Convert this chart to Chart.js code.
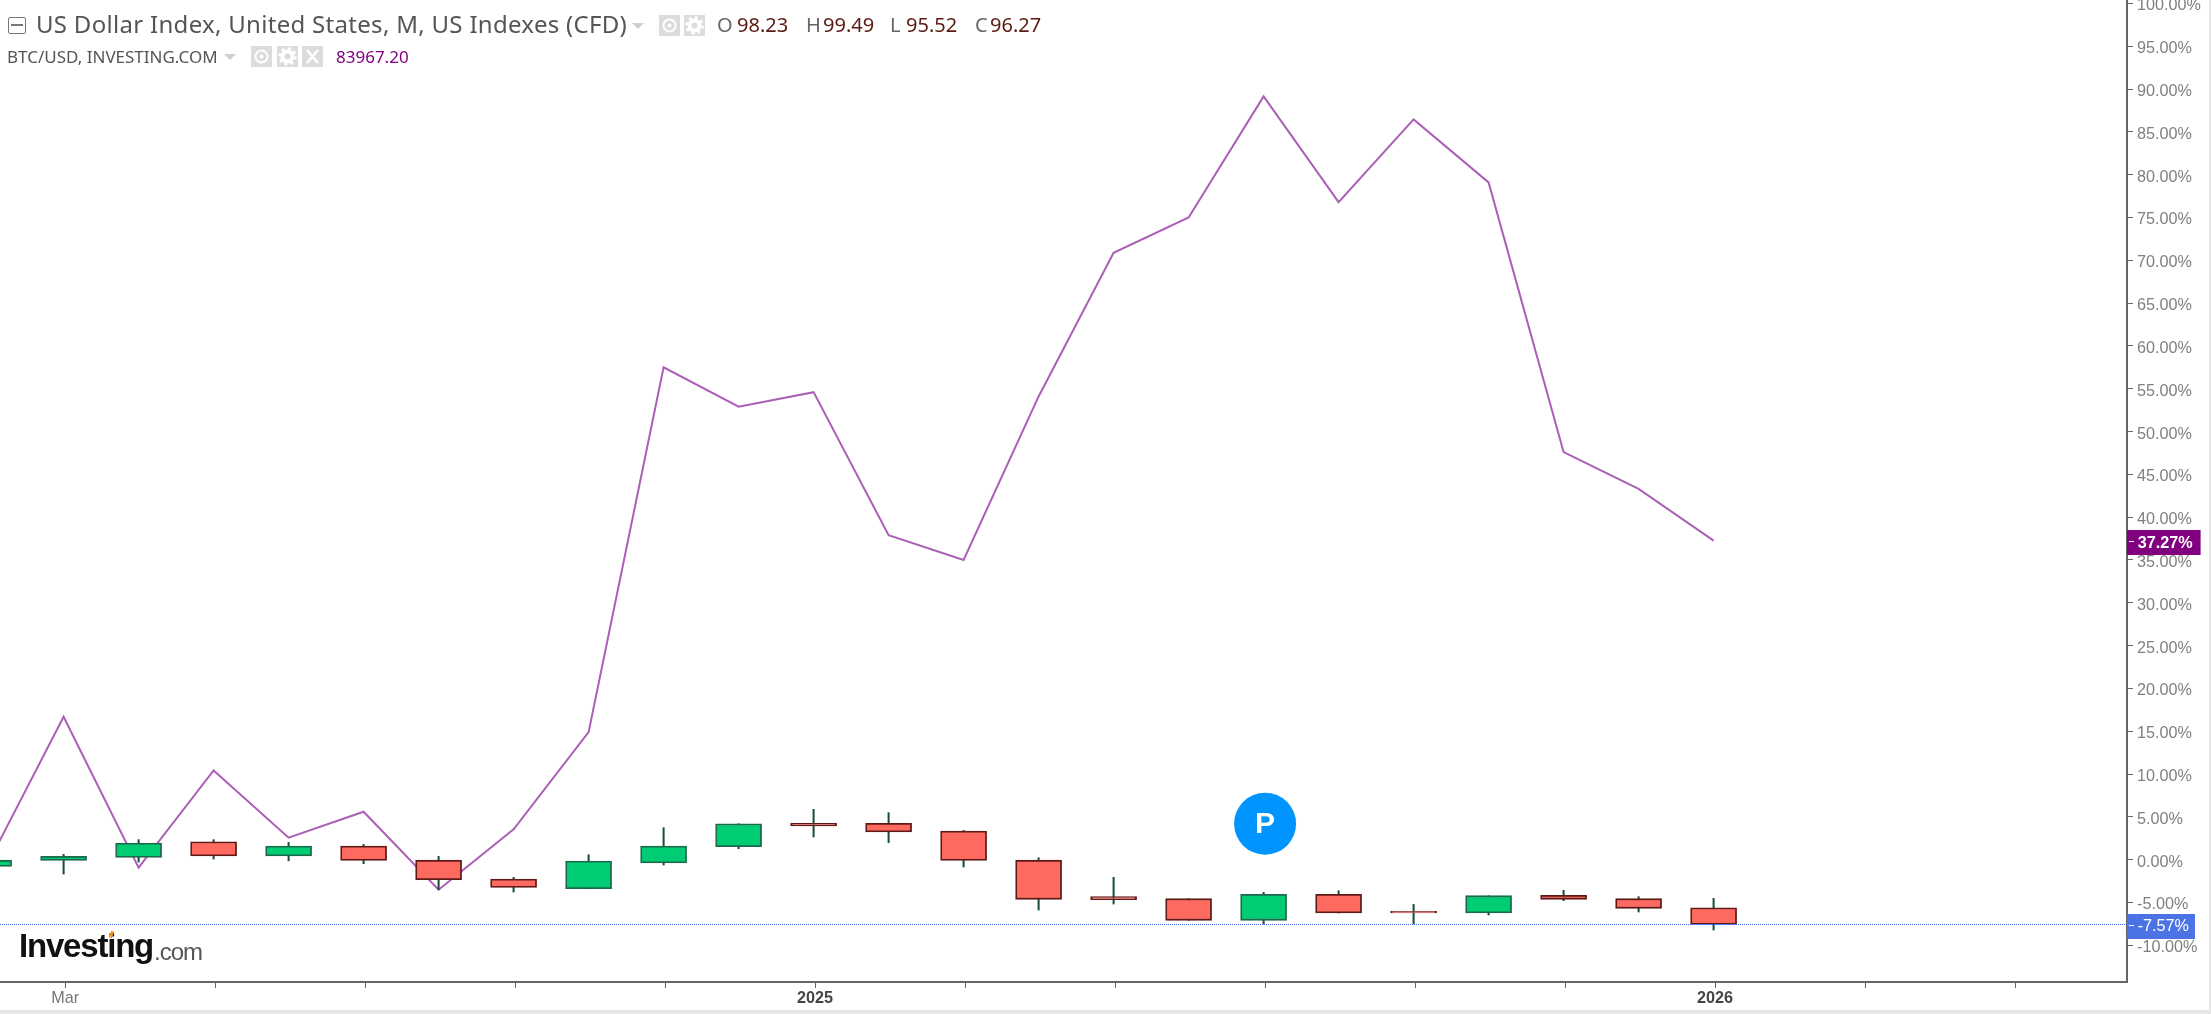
<!DOCTYPE html>
<html><head><meta charset="utf-8">
<script src="https://cdn.jsdelivr.net/npm/chart.js@4"></script>
<style>
html,body{margin:0;padding:0;background:#fff;width:2211px;height:1014px;overflow:hidden}
#band{position:absolute;left:0;top:1010px;width:2211px;height:4px;background:#e6e6e8}
#side{position:absolute;left:2209px;top:0;width:2px;height:1014px;background:#e6e6e8}
canvas{position:absolute;left:0;top:0}
.t{position:absolute;white-space:nowrap;font-family:"Noto Sans",sans-serif;line-height:1}
.ic{position:absolute;width:21px;height:21px;background:#dcdcdc}
.tri{position:absolute;width:0;height:0;border-left:6px solid transparent;border-right:6px solid transparent;border-top:6px solid #cfcfcf}
</style></head><body>
<canvas id="c" width="2209" height="1010" style="width:2209px;height:1010px"></canvas>
<div id="band"></div><div id="side"></div>

<div style="position:absolute;left:8px;top:17px;width:16px;height:15px;border:1.5px solid #777;border-radius:2px"></div>
<div style="position:absolute;left:11px;top:24px;width:12px;height:2px;background:#777"></div>
<div class="t" style="left:36px;top:12px;font-size:24px;letter-spacing:.3px;color:#555">US Dollar Index, United States, M, US Indexes (CFD)</div>
<div class="tri" style="left:632px;top:23px"></div>
<div class="ic" style="left:659px;top:15px"><svg width="21" height="21"><circle cx="10.5" cy="10.5" r="6" fill="none" stroke="#fff" stroke-width="2"/><circle cx="10.5" cy="10.5" r="2" fill="#fff"/></svg></div>
<div class="ic" style="left:684px;top:15px"><svg width="21" height="21"><circle cx="10.5" cy="10.5" r="5" fill="none" stroke="#fff" stroke-width="4" /><circle cx="10.5" cy="10.5" r="8" fill="none" stroke="#fff" stroke-width="2.5" stroke-dasharray="3 3.3"/></svg></div>
<div class="t" style="left:717px;top:15px;font-size:20px;color:#666">O</div>
<div class="t" style="left:737px;top:15px;font-size:20px;color:#5b1a12">98.23</div>
<div class="t" style="left:806px;top:15px;font-size:20px;color:#666">H</div>
<div class="t" style="left:823px;top:15px;font-size:20px;color:#5b1a12">99.49</div>
<div class="t" style="left:890px;top:15px;font-size:20px;color:#666">L</div>
<div class="t" style="left:906px;top:15px;font-size:20px;color:#5b1a12">95.52</div>
<div class="t" style="left:975px;top:15px;font-size:20px;color:#666">C</div>
<div class="t" style="left:990px;top:15px;font-size:20px;color:#5b1a12">96.27</div>

<div class="t" style="left:7px;top:48px;font-size:17px;color:#555">BTC/USD, INVESTING.COM</div>
<div class="tri" style="left:224px;top:54px"></div>
<div class="ic" style="left:251px;top:46px"><svg width="21" height="21"><circle cx="10.5" cy="10.5" r="6" fill="none" stroke="#fff" stroke-width="2"/><circle cx="10.5" cy="10.5" r="2" fill="#fff"/></svg></div>
<div class="ic" style="left:277px;top:46px"><svg width="21" height="21"><circle cx="10.5" cy="10.5" r="5" fill="none" stroke="#fff" stroke-width="4"/><circle cx="10.5" cy="10.5" r="8" fill="none" stroke="#fff" stroke-width="2.5" stroke-dasharray="3 3.3"/></svg></div>
<div class="ic" style="left:302px;top:46px"><svg width="21" height="21"><path d="M5 4 L16 17 M16 4 L5 17" stroke="#fff" stroke-width="2.5"/></svg></div>
<div class="t" style="left:336px;top:48px;font-size:17px;color:#800080">83967.20</div>

<div class="t" style="left:19px;top:929px;font-family:'Liberation Sans';font-weight:700;font-size:33px;color:#111;letter-spacing:-1.2px">Investing</div>
<div style="position:absolute;left:110px;top:931px;width:3px;height:7px;background:#f7941d;transform:rotate(20deg)"></div>
<div class="t" style="left:154px;top:940px;font-family:'Liberation Sans';font-size:24px;color:#555;letter-spacing:-1px">.com</div>

<script>
const candleMonths = ["Feb 2024","Mar 2024","Apr 2024","May 2024","Jun 2024","Jul 2024","Aug 2024","Sep 2024","Oct 2024","Nov 2024","Dec 2024","Jan 2025","Feb 2025","Mar 2025","Apr 2025","May 2025","Jun 2025","Jul 2025","Aug 2025","Sep 2025","Oct 2025","Nov 2025","Dec 2025","Jan 2026"];
const opens  = [-0.78,-0.08,0.27,2.10,0.43,1.60,0.00,-2.26,-3.39,-0.39,1.52,4.24,4.24,3.35,0.00,-4.32,-4.55,-7.08,-4.05,-6.03,-6.23,-4.17,-4.55,-5.61];
const highs  = [0.00,0.62,2.34,2.34,2.02,1.79,0.39,-2.06,0.58,3.74,4.20,5.88,5.49,3.43,0.23,-2.06,-4.55,-3.81,-3.62,-5.22,-4.20,-3.58,-4.32,-4.52];
const lows   = [-0.78,-1.67,-0.27,0.08,-0.12,-0.47,-3.50,-3.78,-3.39,-0.62,1.28,2.65,1.99,-0.86,-5.88,-5.18,-7.08,-7.51,-6.23,-7.51,-6.46,-4.79,-6.11,-8.21];
const closes = [0.00,0.39,1.95,0.43,1.60,-0.08,-2.34,-3.23,-0.16,1.60,4.20,3.93,3.23,-0.08,-4.63,-4.67,-7.08,-4.05,-6.23,-6.23,-4.20,-4.63,-5.68,-7.57];
const btc    = [-0.3,16.7,-0.93,10.43,2.57,5.6,-3.5,3.54,14.89,57.5,52.9,54.6,37.9,35.0,54.1,70.88,75.0,89.14,76.8,86.45,79.1,47.6,43.3,37.27];
const yTicks = [100,95,90,85,80,75,70,65,60,55,50,45,40,35,30,25,20,15,10,5,0,-5,-10];
const xTickSlots  = [1,3,5,7,9,11,13,15,17,19,21,23,25,27];
const xTickLabels = ["Mar","","","","","2025","","","","","","2026","",""];
const markerSlot = 17.02, markerLevel = 4.2, markerLetter = "P";
const btcLast = "37.27%", dxyLast = "-7.57%";

const UP="#00cc73", UPB="#1c6a4b", DN="#ff6a60", DNB="#5f1a18", WICK="#1a5038";
const xs = candleMonths.map((_,i)=>i);
const X_MIN=0.152, X_MAX=28.512, Y_MAX=100.397, Y_MIN=-14.283;
const isUp = i => closes[i] >= opens[i];
const isYear = c => !!(c && c.tick && /^\d/.test(c.tick.label||''));
const noPad = s => { s.paddingLeft=0; s.paddingRight=0; s.paddingTop=0; s.paddingBottom=0; };

const tags = {
  id:'tags',
  afterDraw(ch){
    const c=ch.ctx, y=ch.scales.y, a=ch.chartArea;
    const tag=(val,txt,bg,font,pad)=>{
      const py=y.getPixelForValue(val);
      c.save();
      c.font=font;
      const w=c.measureText(txt).width;
      c.fillStyle=bg;
      c.fillRect(a.right,Math.round(py)-11,10.7+w+pad,25);
      c.fillStyle='#fff';
      c.fillRect(a.right+2,Math.round(py),5,1);
      c.textBaseline='middle';
      c.fillText(txt,a.right+10.7,py+2.5);
      c.restore();
    };
    tag(btc[btc.length-1],btcLast,'#800080','700 16.2px "Liberation Sans"',8);
    tag(closes[closes.length-1],dxyLast,'#4c73e6','16.2px "Liberation Sans"',6);
    const idx=ch.data.datasets.findIndex(d=>d.label==='marker');
    const p=ch.getDatasetMeta(idx).data[0];
    c.save();
    c.fillStyle='#fff';c.font='700 30px "Liberation Sans"';c.textAlign='center';c.textBaseline='middle';
    c.fillText(markerLetter,p.x,p.y+1);
    c.restore();
  }
};

new Chart(document.getElementById('c'),{
  type:'bar',
  plugins:[tags],
  data:{datasets:[
    {label:'level',type:'line',order:0,data:[{x:X_MIN,y:closes[closes.length-1]},{x:X_MAX,y:closes[closes.length-1]}],borderColor:'#3f66e6',borderWidth:1,borderDash:[1,1],pointRadius:0},
    {label:'marker',type:'line',order:0,data:[{x:markerSlot,y:markerLevel}],pointRadius:31,pointBackgroundColor:'#0094ff',pointBorderWidth:0,showLine:false,clip:false},
    {label:'body',order:1,data:xs.map(i=>({x:i,y:[opens[i],closes[i]]})),barThickness:46,grouped:false,
      backgroundColor:xs.map(i=>isUp(i)?UP:DN),borderColor:xs.map(i=>isUp(i)?UPB:DNB),borderWidth:1.8,borderSkipped:false},
    {label:'wick',order:2,data:xs.map(i=>({x:i,y:[lows[i],highs[i]]})),barThickness:1.4,grouped:false,backgroundColor:WICK,borderWidth:0},
    {label:'BTC/USD',type:'line',order:3,data:xs.map(i=>({x:i,y:btc[i]})),borderColor:'#ab5fb6',borderWidth:2,pointRadius:0,tension:0}
  ]},
  options:{
    responsive:false,animation:false,devicePixelRatio:1,
    layout:{padding:0,autoPadding:false},
    plugins:{legend:{display:false},tooltip:{enabled:false}},
    scales:{
      x:{type:'linear',min:X_MIN,max:X_MAX,offset:false,
        afterFit(s){s.height=28;noPad(s)},
        afterBuildTicks(s){s.ticks=xTickSlots.map(v=>({value:v+0.02}))},
        grid:{display:true,offset:false,drawOnChartArea:false,drawTicks:true,tickLength:6,tickColor:'#666',tickWidth:1},
        border:{display:true,color:'#666',width:2},
        ticks:{autoSkip:false,maxRotation:0,minRotation:0,padding:1,
          callback(v){const k=xTickSlots.indexOf(Math.round(v));return k<0?'':xTickLabels[k]},
          font:c=>({family:'"Liberation Sans"',size:16.2,weight:isYear(c)?'700':'400'}),
          color:c=>isYear(c)?'#444':'#777'}
      },
      y:{type:'linear',position:'right',min:Y_MIN,max:Y_MAX,beginAtZero:false,
        afterFit(s){s.width=82;noPad(s)},
        afterBuildTicks(s){s.ticks=yTicks.map(v=>({value:v}))},
        grid:{drawOnChartArea:false,drawTicks:true,tickLength:6,tickColor:'#666',tickWidth:1},
        border:{display:true,color:'#666',width:2},
        ticks:{autoSkip:false,padding:4,labelOffset:2.5,color:'#808080',font:{family:'"Liberation Sans"',size:16.2},
          callback:v=>v.toFixed(2)+'%'}
      }
    }
  }
});
</script>
</body></html>
